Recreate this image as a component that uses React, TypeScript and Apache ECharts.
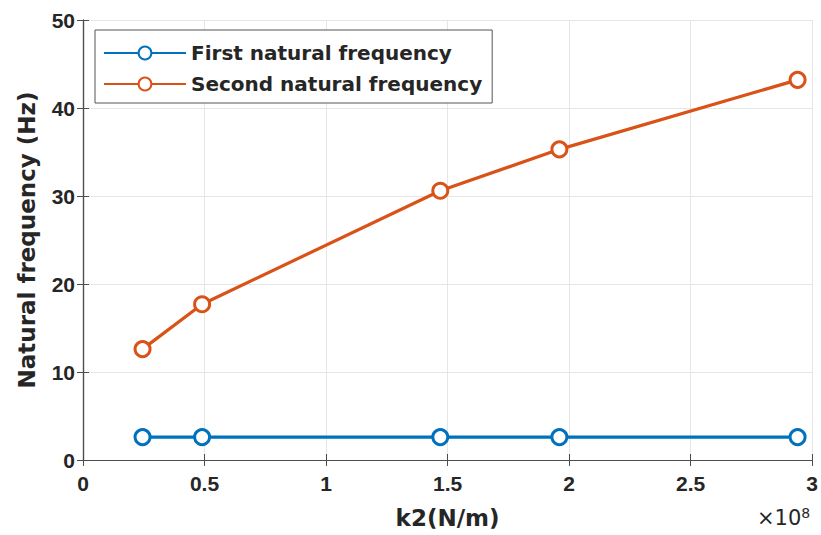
import React, { useEffect, useRef } from "react";
import * as echarts from "echarts";

// Spring stiffness k2 (in units of 1e8 N/m)
const k2Values = [0.245, 0.49, 1.47, 1.96, 2.94];
// Natural frequencies (Hz)
const firstFreq = [2.6, 2.6, 2.6, 2.6, 2.6];
const secondFreq = [12.6, 17.7, 30.6, 35.3, 43.2];

const xTicks = [0, 0.5, 1, 1.5, 2, 2.5, 3];
const yTicks = [0, 10, 20, 30, 40, 50];

const BLUE = "#0072BD";
const ORANGE = "#D95319";
const TICK_FONT = "Liberation Sans, Arial, sans-serif";
const TITLE_FONT = "DejaVu Sans, sans-serif";
const TEXT = "#262626";

export default function App() {
  const ref = useRef<HTMLDivElement>(null);

  useEffect(() => {
    if (!ref.current) return;
    const chart = echarts.init(ref.current, undefined, { renderer: "svg" });
    const pair = (ys: number[]) => k2Values.map((x, i) => [x, ys[i]]);
    const axisCommon = {
      type: "value" as const,
      axisLine: { show: true, lineStyle: { color: "#4d4d4d", width: 1.2 } },
      axisTick: { show: true, inside: true, length: 6, lineStyle: { color: "#4d4d4d" } },
    };
    const tickLabel = {
      fontFamily: TICK_FONT,
      fontWeight: "bold" as const,
      fontSize: 21,
      color: TEXT,
    };
    const titleStyle = { fontFamily: TITLE_FONT, fontWeight: "bold" as const, fontSize: 23, color: TEXT };
    chart.setOption({
      animation: false,
      backgroundColor: "#ffffff",
      grid: { left: 83, right: 5, top: 20, bottom: 75, show: false },
      legend: {
        orient: "vertical",
        left: 95,
        top: 30,
        padding: [12, 10, 8, 8],
        itemGap: 9,
        itemWidth: 82,
        itemHeight: 16,
        backgroundColor: "#ffffff",
        borderColor: "#555555",
        borderWidth: 1,
        borderRadius: 0,
        textStyle: { fontFamily: TITLE_FONT, fontWeight: "bold", fontSize: 20, lineHeight: 22, color: TEXT },
        data: ["First natural frequency", "Second natural frequency"],
      },
      xAxis: [
        {
          ...axisCommon,
          min: 0,
          max: 3,
          interval: 0.5,
          position: "bottom",
          axisLabel: {
            ...tickLabel,
            margin: 13,
            formatter: (v: number) => (xTicks.includes(v) ? String(v) : ""),
          },
          splitLine: { show: true, lineStyle: { color: "#e6e6e6", width: 1 } },
          name: "k2(N/m)",
          nameLocation: "middle",
          nameGap: 46,
          nameTextStyle: titleStyle,
        },
        {
          ...axisCommon,
          min: 0,
          max: 3,
          interval: 0.5,
          position: "top",
          axisLabel: { show: false },
          splitLine: { show: false },
        },
      ],
      yAxis: [
        {
          ...axisCommon,
          min: 0,
          max: 50,
          interval: 10,
          position: "left",
          axisLabel: {
            ...tickLabel,
            margin: 8,
            formatter: (v: number) => (yTicks.includes(v) ? String(v) : ""),
          },
          splitLine: { show: true, lineStyle: { color: "#e6e6e6", width: 1 } },
          name: "Natural frequency (Hz)",
          nameLocation: "middle",
          nameGap: 45,
          nameTextStyle: titleStyle,
        },
        {
          ...axisCommon,
          min: 0,
          max: 50,
          interval: 10,
          position: "right",
          axisLabel: { show: false },
          splitLine: { show: false },
        },
      ],
      graphic: [
        {
          type: "text",
          left: 757,
          top: 506,
          style: {
            text: "×10{s|8}",
            rich: {
              s: { fontSize: 14, fontFamily: TITLE_FONT, fill: TEXT, verticalAlign: "top", padding: [0, 0, 10, 0] },
            },
            fontFamily: TITLE_FONT,
            fontSize: 21,
            fill: TEXT,
          },
        },
      ],
      series: [
        {
          name: "First natural frequency",
          type: "line",
          data: pair(firstFreq),
          color: BLUE,
          lineStyle: { width: 3.2, color: BLUE },
          symbol: "circle",
          symbolSize: 15,
          itemStyle: { color: "#ffffff", borderColor: BLUE, borderWidth: 3 },
          z: 3,
        },
        {
          name: "Second natural frequency",
          type: "line",
          data: pair(secondFreq),
          color: ORANGE,
          lineStyle: { width: 3.2, color: ORANGE },
          symbol: "circle",
          symbolSize: 15,
          itemStyle: { color: "#ffffff", borderColor: ORANGE, borderWidth: 3 },
          z: 3,
        },
      ],
    });
    return () => chart.dispose();
  }, []);

  return <div ref={ref} style={{ width: 821, height: 535, position: "absolute", left: 0, top: 0 }} />;
}
